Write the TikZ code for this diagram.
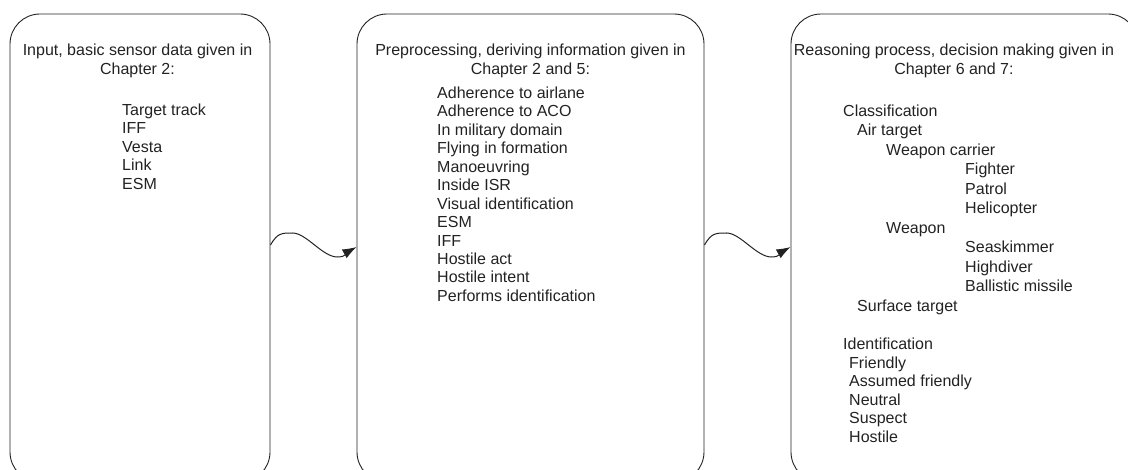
\documentclass[tikz,border=0pt]{standalone}
\usepackage{fontspec}
\setmainfont{Liberation Sans}
\usetikzlibrary{arrows.meta}
\definecolor{ink}{HTML}{222222}
\begin{document}
\begin{tikzpicture}[x=1pt,y=-1pt,
  stage/.style={draw=ink, line width=0.9pt, rounded corners=30pt, inner sep=0pt},
  heading/.style={align=center, anchor=north, font=\fontsize{16}{18.4}\selectfont, text=ink, inner sep=0pt},
  entry/.style={anchor=base west, font=\fontsize{16}{18.4}\selectfont, text=ink, inner sep=0pt},
  flow/.style={draw=ink, line width=1pt, -{Latex[length=14pt,width=10pt]}}]
\useasboundingbox (0,0) rectangle (1128,470);
\clip (0,0) rectangle (1128,470);

% the three stages
\node[stage, minimum width=260pt, minimum height=468pt] (input) at (140,248) {};
\node[stage, minimum width=347pt, minimum height=468pt] (prep) at (530.5,248) {};
\node[stage, minimum width=347pt, minimum height=468pt] (reason) at (964.5,248) {};

% headings
\node[heading] (hinput) at (137.5,44) {Input, basic sensor data given in\\Chapter 2:};
\node[heading] (hprep) at (530.5,44) {Preprocessing, deriving information given in\\Chapter 2 and 5:};
\node[heading] (hreason) at (954,44) {Reasoning process, decision making given in\\Chapter 6 and 7:};

% sensor data
\foreach \t [count=\i from 0] in {Target track, IFF, Vesta, Link, ESM}
  \node[entry] (in\i) at (122,115.5+18.4*\i) {\t};

% derived information
\foreach \t [count=\i from 0] in {Adherence to airlane, Adherence to ACO, In military domain,
    Flying in formation, Manoeuvring, Inside ISR, Visual identification, ESM, IFF,
    Hostile act, Hostile intent, Performs identification}
  \node[entry] (pr\i) at (437,98.5+18.45*\i) {\t};

% classification tree
\foreach \t/\x/\y [count=\i] in {Classification/843/116.5, Air target/857/136,
    Weapon carrier/886/155.5, Fighter/965/175, Patrol/965/194.5, Helicopter/965/214,
    Weapon/886/233.5, Seaskimmer/965/253, Highdiver/965/272.5,
    Ballistic missile/965/292, Surface target/857/311.5}
  \node[entry] (cl\i) at (\x,\y) {\t};

% identification
\foreach \t/\x [count=\i from 0] in {Identification/843, Friendly/849,
    Assumed friendly/849, Neutral/849, Suspect/849, Hostile/849}
  \node[entry] (id\i) at (\x,349.5+18.6*\i) {\t};

% wavy connectors between stages
\draw[flow] ([yshift=3pt]input.east) .. controls +(7,-12) and +(-11,0) .. ++(22,-12)
  .. controls +(14,0) and +(-15,0) .. ++(45,24)
  .. controls +(9,0) and +(-9,5) .. ([yshift=1pt]prep.west);
\draw[flow] ([yshift=3pt]prep.east) .. controls +(7,-12) and +(-11,0) .. ++(22,-12)
  .. controls +(14,0) and +(-15,0) .. ++(45,24)
  .. controls +(9,0) and +(-9,5) .. ([yshift=1pt]reason.west);
\end{tikzpicture}
\end{document}
